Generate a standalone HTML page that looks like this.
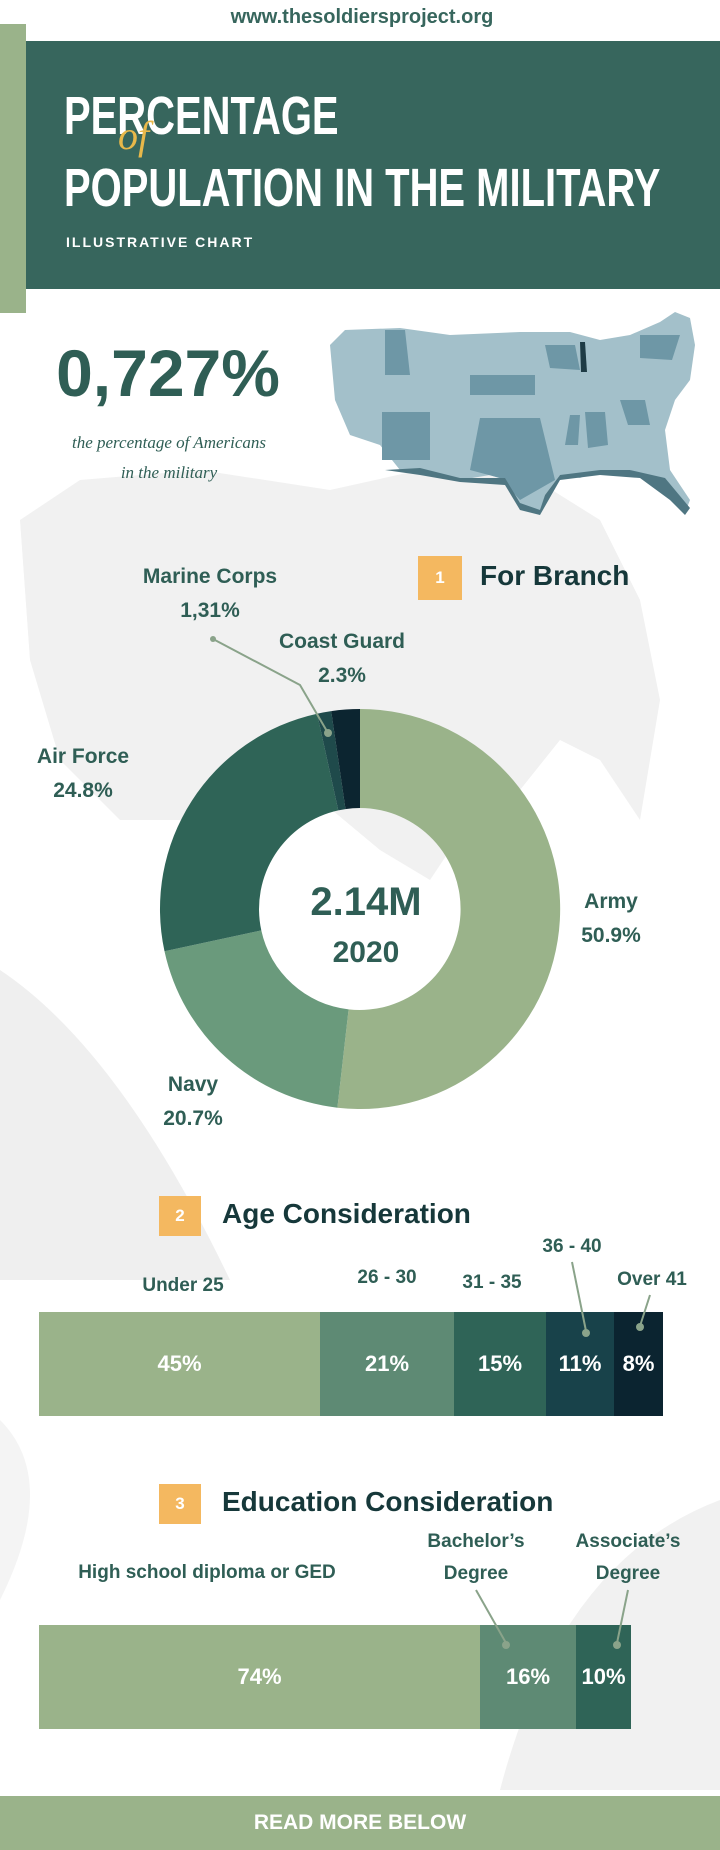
<!DOCTYPE html>
<html><head><meta charset="utf-8"><style>
*{margin:0;padding:0;box-sizing:border-box}
body{width:720px;height:1850px;position:relative;background:#fff;font-family:"Liberation Sans",sans-serif;overflow:hidden;color:#2f5e55}
.a{position:absolute}
.c{transform:translateX(-50%);text-align:center;white-space:nowrap}
.lbl{font-weight:bold;font-size:21px;color:#2f5e55;line-height:34px}
.box{background:#f4b860;color:#fff;font-weight:bold;font-size:17px;text-align:center}
.ttl{font-weight:bold;font-size:28px;color:#16383a}
.seg{position:absolute;top:0;height:100%;color:#fff;font-weight:bold;font-size:22px;display:flex;align-items:center;justify-content:center}
.big{font-family:'Liberation Sans Narrow','Liberation Sans',sans-serif;font-weight:bold;font-size:54px;color:#fff;line-height:60px;transform:scaleX(0.74);transform-origin:left;white-space:nowrap}
</style></head><body>
<svg class="a" style="left:0;top:0" width="720" height="1850">
 <path d="M20 520 L80 480 L200 470 L330 490 L420 470 L520 470 L600 520 L640 600 L660 700 L640 820 L600 760 L560 740 L520 790 L470 820 L430 880 L380 850 L320 800 L260 840 L200 820 L120 820 L60 760 L30 660 Z" fill="#f1f1f1"/>
 <path d="M0 970 Q120 1050 230 1280 L0 1280 Z" fill="#efefef"/>
 <path d="M720 1500 Q560 1560 500 1790 L720 1790 Z" fill="#f1f1f1"/>
 <path d="M0 1420 Q60 1480 0 1600 Z" fill="#f4f4f4"/>
 <path d="M330 345 L345 330 L400 328 L450 335 L520 332 L570 332 L600 340 L630 335 L660 322 L675 312 L690 318 L695 345 L690 380 L675 400 L665 430 L670 470 L690 500 L685 513 L660 480 L630 470 L600 470 L580 478 L560 475 L545 495 L540 512 L520 505 L505 480 L490 475 L460 480 L420 470 L400 470 L380 445 L350 435 L335 400 Z" fill="#a3c0ca"/>
 <path d="M385 330 L405 330 L410 375 L385 375 Z M470 375 L535 375 L535 395 L470 395 Z M382 412 L430 412 L430 460 L382 460 Z M480 418 L540 418 L555 480 L520 500 L500 478 L470 470 Z M545 345 L575 345 L580 370 L550 368 Z M585 412 L605 412 L608 445 L588 448 Z M640 335 L680 335 L672 360 L640 358 Z M620 400 L645 400 L650 425 L628 425 Z M570 415 L580 415 L578 445 L565 445 Z" fill="#6e97a6"/>
 <path d="M385 470 L420 475 L460 482 L505 485 L520 510 L540 515 L560 480 L600 475 L640 478 L670 500 L685 515 L690 508 L665 478 L630 470 L600 470 L560 475 L545 495 L540 510 L520 503 L505 478 L460 478 L420 468 Z" fill="#4f7682"/>
 <path d="M580 342 L585 342 L587 372 L581 372 Z" fill="#1e3b45"/>
 <rect x="0" y="24" width="26" height="289" fill="#9ab38a"/>
 <rect x="26" y="41" width="694" height="248" fill="#37665d"/>
 <g transform="translate(360,909)">
  <path d="M0 -200 A200 200 0 1 1 -22.6 198.7 L-11.4 100.4 A101 101 0 1 0 0 -101 Z" fill="#9ab38a"/>
  <path d="M-22.6 198.7 A200 200 0 0 1 -195.5 42.3 L-98.7 21.4 A101 101 0 0 0 -11.4 100.4 Z" fill="#6a9a7c"/>
  <path d="M-195.5 42.3 A200 200 0 0 1 -42.9 -195.3 L-21.7 -98.6 A101 101 0 0 0 -98.7 21.4 Z" fill="#2f6457"/>
  <path d="M-42.9 -195.3 A200 200 0 0 1 -28.8 -197.9 L-14.5 -99.9 A101 101 0 0 0 -21.7 -98.6 Z" fill="#1f4a4b"/>
  <path d="M-28.8 -197.9 A200 200 0 0 1 0 -200 L0 -101 A101 101 0 0 0 -14.5 -99.9 Z" fill="#0c2530"/>
 </g>
 <polyline points="213,639 300,685 328,733" fill="none" stroke="#8aa38a" stroke-width="2"/>
 <circle cx="213" cy="639" r="3" fill="#8aa38a"/><circle cx="328" cy="733" r="4" fill="#8aa38a"/>
</svg>
<div class="a" style="left:64px;top:86px" ><div class="big">PERCENTAGE</div></div>
<div class="a" style="left:118px;top:112px;font-family:'Liberation Serif',serif;font-style:italic;font-size:40px;color:#e8b84a">of</div>
<div class="a" style="left:64px;top:158px"><div class="big">POPULATION IN THE MILITARY</div></div>
<div class="a c" style="left:362px;top:6px;font-size:20px;font-weight:bold;color:#37665d">www.thesoldiersproject.org</div>
<div class="a" style="left:66px;top:234px;font-size:14px;font-weight:bold;color:#fff;letter-spacing:2px">ILLUSTRATIVE CHART</div>
<div class="a c" style="left:168px;top:335px;font-size:66px;font-weight:bold;color:#2f5e55">0,727%</div>
<div class="a c" style="left:169px;top:428px;font-size:17px;font-style:italic;color:#2f5e55;line-height:30px;font-family:'Liberation Serif',serif">the percentage of Americans<br>in the military</div>
<div class="a box" style="left:418px;top:556px;width:44px;height:44px;line-height:44px">1</div>
<div class="a ttl" style="left:480px;top:560px">For Branch</div>
<div class="a c lbl" style="left:210px;top:560px">Marine Corps<br>1,31%</div>
<div class="a c lbl" style="left:342px;top:625px">Coast Guard<br>2.3%</div>
<div class="a c lbl" style="left:83px;top:740px">Air Force<br>24.8%</div>
<div class="a c lbl" style="left:611px;top:885px">Army<br>50.9%</div>
<div class="a c lbl" style="left:193px;top:1068px">Navy<br>20.7%</div>
<div class="a c" style="left:366px;top:880px;font-size:40px;font-weight:bold">2.14M</div>
<div class="a c" style="left:366px;top:936px;font-size:30px;font-weight:bold">2020</div>
<div class="a box" style="left:159px;top:1196px;width:42px;height:40px;line-height:40px">2</div>
<div class="a ttl" style="left:222px;top:1198px">Age Consideration</div>
<div class="a c lbl" style="left:183px;top:1269px;font-size:19px">Under 25</div>
<div class="a c lbl" style="left:387px;top:1261px;font-size:19px">26 - 30</div>
<div class="a c lbl" style="left:492px;top:1266px;font-size:19px">31 - 35</div>
<div class="a c lbl" style="left:572px;top:1230px;font-size:19px">36 - 40</div>
<div class="a c lbl" style="left:652px;top:1263px;font-size:19px">Over 41</div>
<div class="a" style="left:39px;top:1312px;width:624px;height:104px">
 <div class="seg" style="left:0;width:281px;background:#9ab38a">45%</div>
 <div class="seg" style="left:281px;width:134px;background:#5e8a74">21%</div>
 <div class="seg" style="left:415px;width:92px;background:#2f6457">15%</div>
 <div class="seg" style="left:507px;width:68px;background:#18424a">11%</div>
 <div class="seg" style="left:575px;width:49px;background:#0b2430">8%</div>
</div>
<div class="a box" style="left:159px;top:1484px;width:42px;height:40px;line-height:40px">3</div>
<div class="a ttl" style="left:222px;top:1486px">Education Consideration</div>
<div class="a c lbl" style="left:207px;top:1556px;font-size:19px">High school diploma or GED</div>
<div class="a c lbl" style="left:476px;top:1526px;font-size:19px;line-height:32px">Bachelor’s<br>Degree</div>
<div class="a c lbl" style="left:628px;top:1526px;font-size:19px;line-height:32px">Associate’s<br>Degree</div>
<div class="a" style="left:39px;top:1625px;width:592px;height:104px">
 <div class="seg" style="left:0;width:441px;background:#9ab38a">74%</div>
 <div class="seg" style="left:441px;width:96px;background:#5e8a74">16%</div>
 <div class="seg" style="left:537px;width:55px;background:#2f6457">10%</div>
</div>
<svg class="a" style="left:0;top:0" width="720" height="1850">
 <g stroke="#8aa38a" stroke-width="2" fill="none">
  <polyline points="572,1262 586,1331"/><polyline points="650,1295 640,1326"/>
  <polyline points="476,1590 506,1643"/><polyline points="628,1590 617,1643"/>
 </g>
 <g fill="#8aa38a"><circle cx="586" cy="1333" r="4"/><circle cx="640" cy="1327" r="4"/><circle cx="506" cy="1645" r="4"/><circle cx="617" cy="1645" r="4"/></g>
</svg>
<div class="a" style="left:0;top:1796px;width:720px;height:54px;background:#9ab38a;color:#fff;font-weight:bold;font-size:21px;text-align:center;line-height:54px">READ MORE BELOW</div>
</body></html>
